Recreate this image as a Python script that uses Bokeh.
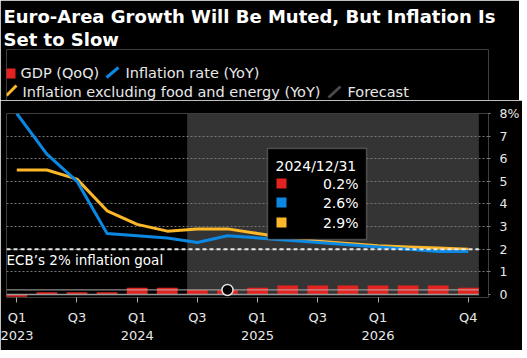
from bokeh.plotting import figure
from bokeh.layouts import column
from bokeh.models import Range1d, FixedTicker, BoxAnnotation, Label, Title
from bokeh.embed import file_html
from bokeh.resources import INLINE
from bokeh.core.properties import value

# ---------------- data ----------------
quarter_idx = list(range(16))  # Q1 2023 .. Q4 2026
gdp = [-0.1, 0.1, 0.1, 0.1, 0.3, 0.3, 0.2, 0.2, 0.3, 0.4, 0.4, 0.4, 0.4, 0.4, 0.4, 0.3]
inflation = [8.0, 6.2, 5.0, 2.7, 2.6, 2.5, 2.3, 2.6, 2.5, 2.4, 2.3, 2.2, 2.1, 2.0, 1.9, 1.9]
core = [5.5, 5.5, 5.1, 3.7, 3.1, 2.8, 2.9, 2.9, 2.7, 2.5, 2.35, 2.25, 2.15, 2.1, 2.05, 2.0]
tick_positions = [0, 2, 4, 6, 8, 10, 12, 15]
tick_labels = ["Q1\n2023", "Q3", "Q1\n2024", "Q3", "Q1\n2025", "Q3", "Q1\n2026", "Q4"]
y_ticks = [0, 1, 2, 3, 4, 5, 6, 7, 8]
goal = 2.0
forecast_start = 5.66
plot_end = 15.35
hover_idx = 7
hover_date = "2024/12/31"

title_lines = ["Euro-Area Growth Will Be Muted, But Inflation Is", "Set to Slow"]
legend_labels = ["GDP (QoQ)", "Inflation rate (YoY)",
                 "Inflation excluding food and energy (YoY)", "Forecast"]

RED = "#e3231f"
BLUE = "#0b88e2"
YELLOW = "#fdb82a"
SHADE = "#343434"
FONT = "DejaVu Sans"
TXT = "#e8e8e8"

TOTAL_W = 519
FL, FW = 6, 482
FR = TOTAL_W - FL - FW

# ---------------- header (title + legend) ----------------
HH, HT = 100, 49
hdr = figure(frame_width=FW, frame_height=HH - HT, min_border_left=FL, min_border_right=FR,
             min_border_top=HT, min_border_bottom=0, title=None,
             x_range=Range1d(FL, FL + FW), y_range=Range1d(HH, HT),
             toolbar_location=None, output_backend="svg",
             background_fill_color="black", border_fill_color="black",
             outline_line_color=None)
hdr.axis.visible = False
hdr.grid.visible = False
for t in reversed(title_lines):
    hdr.add_layout(Title(text=t, align="left", offset=-3, standoff=0,
                         text_font=FONT, text_font_style="bold", text_font_size="18px",
                         text_color="white"), "above")

hdr.rect(x=[10], y=[73], width=10, height=10, fill_color=RED, line_color=None)
hdr.segment(x0=[106, 6, 328], y0=[77, 95, 97], x1=[118, 16, 340], y1=[67, 85, 86],
            line_color=[BLUE, YELLOW, "#4a4a4a"], line_width=3)
hdr.text(x=[20, 125, 22, 347], y=[72.5, 72.5, 91, 91], text=legend_labels,
         text_font=value(FONT), text_font_size="14.5px", text_color=TXT,
         text_baseline="middle")

# ---------------- main plot ----------------
x_start, x_end = -0.342, 15.671
y_start, y_end = -0.133, 8.0
FT, FH = 13, 184
p = figure(frame_width=FW, frame_height=FH, min_border_left=FL, min_border_right=FR,
           min_border_top=FT, min_border_bottom=53,
           x_range=Range1d(x_start, x_end), y_range=Range1d(y_start, y_end),
           y_axis_location="right", toolbar_location=None, output_backend="svg",
           background_fill_color="black", border_fill_color="black",
           outline_line_color=None)

# layout helpers: pixel (relative to this figure's canvas) -> data units, annotations only
def px2x(px):
    return x_start + (px - FL) * (x_end - x_start) / FW

def py2y(py):
    return y_end - (py - 100 - FT) * (y_end - y_start) / FH

# forecast shading (below grid)
p.quad(left=[forecast_start], right=[plot_end], bottom=[0], top=[y_end],
       fill_color=SHADE, line_color=None, level="image")

p.xgrid.visible = False
p.ygrid.ticker = FixedTicker(ticks=y_ticks[1:])
p.ygrid.grid_line_color = "#777777"
p.ygrid.grid_line_dash = "2 2"
p.ygrid.grid_line_width = 1

# GDP bars
p.vbar(x=quarter_idx, top=gdp, bottom=0, width=0.69, fill_color=RED, line_color=None)
# zero line
p.segment(x0=[x_start], x1=[plot_end], y0=[0], y1=[0], line_color="#9a9a9a", line_width=1.5)
# crosshair at hovered GDP value
p.segment(x0=[x_start], x1=[plot_end], y0=[gdp[hover_idx]], y1=[gdp[hover_idx]],
          line_color="#bbbbbb", line_alpha=0.75, line_width=1.2)

# lines
p.line(quarter_idx, core, line_color=YELLOW, line_width=3)
p.line(quarter_idx, inflation, line_color=BLUE, line_width=3)

# goal line
p.segment(x0=[x_start], x1=[plot_end], y0=[goal], y1=[goal], line_color="#e6e6e6",
          line_width=2, line_dash="4 3")

# hover marker
p.scatter([quarter_idx[hover_idx]], [gdp[hover_idx]], size=11, fill_color="black",
          line_color="#e0e0e0", line_width=1.5)

# axes
p.xaxis.ticker = FixedTicker(ticks=tick_positions)
p.xaxis.major_label_overrides = {t: l for t, l in zip(tick_positions, tick_labels)}
p.xaxis.axis_line_color = None
p.xaxis.major_tick_line_color = "#aaaaaa"
p.xaxis.major_tick_in = 0
p.xaxis.major_tick_out = 5
p.xaxis.minor_tick_line_color = None
p.xaxis.major_label_standoff = 7
p.xaxis.major_label_text_font = FONT
p.xaxis.major_label_text_font_size = "13px"
p.xaxis.major_label_text_color = TXT

p.yaxis.ticker = FixedTicker(ticks=y_ticks)
p.yaxis.major_label_overrides = {y_ticks[-1]: f"{y_ticks[-1]}%"}
p.yaxis.axis_line_color = None
p.yaxis.major_tick_line_color = "#888888"
p.yaxis.major_tick_line_dash = "0 6 2 20"
p.yaxis.major_tick_in = 0
p.yaxis.major_tick_out = 8
p.yaxis.minor_tick_line_color = None
p.yaxis.major_label_standoff = 3
p.yaxis.major_label_text_font = FONT
p.yaxis.major_label_text_font_size = "12.5px"
p.yaxis.major_label_text_color = TXT

# goal label
p.add_layout(Label(x=px2x(6), y=py2y(259), text="ECB\u2019s 2% inflation goal",
                   text_font=FONT, text_font_size="13.5px", text_color="white",
                   text_baseline="middle"))

# ---------------- tooltip ----------------
p.add_layout(BoxAnnotation(left=px2x(267), right=px2x(366), top=py2y(148), bottom=py2y(239),
                           fill_color="black", fill_alpha=1.0, line_color="#bdbdbd",
                           line_width=1.5, level="overlay"))
p.add_layout(Label(x=px2x(275), y=py2y(165), text=hover_date, text_font=FONT,
                   text_font_size="14px", text_color="white", text_baseline="middle",
                   level="overlay"))
row_y = [183, 202, 222]
row_vals = [gdp[hover_idx], inflation[hover_idx], core[hover_idx]]
row_cols = [RED, BLUE, YELLOW]
for ry, v, c in zip(row_y, row_vals, row_cols):
    p.add_layout(BoxAnnotation(left=px2x(276), right=px2x(286), top=py2y(ry - 5),
                               bottom=py2y(ry + 5), fill_color=c, fill_alpha=1.0,
                               line_color=None, level="overlay"))
    p.add_layout(Label(x=px2x(358), y=py2y(ry), text=f"{v:.1f}%", text_font=FONT,
                       text_font_size="14px", text_color="white", text_align="right",
                       text_baseline="middle", level="overlay"))

layout = column(hdr, p, spacing=0)
open("out.html", "w").write(file_html(layout, INLINE))
